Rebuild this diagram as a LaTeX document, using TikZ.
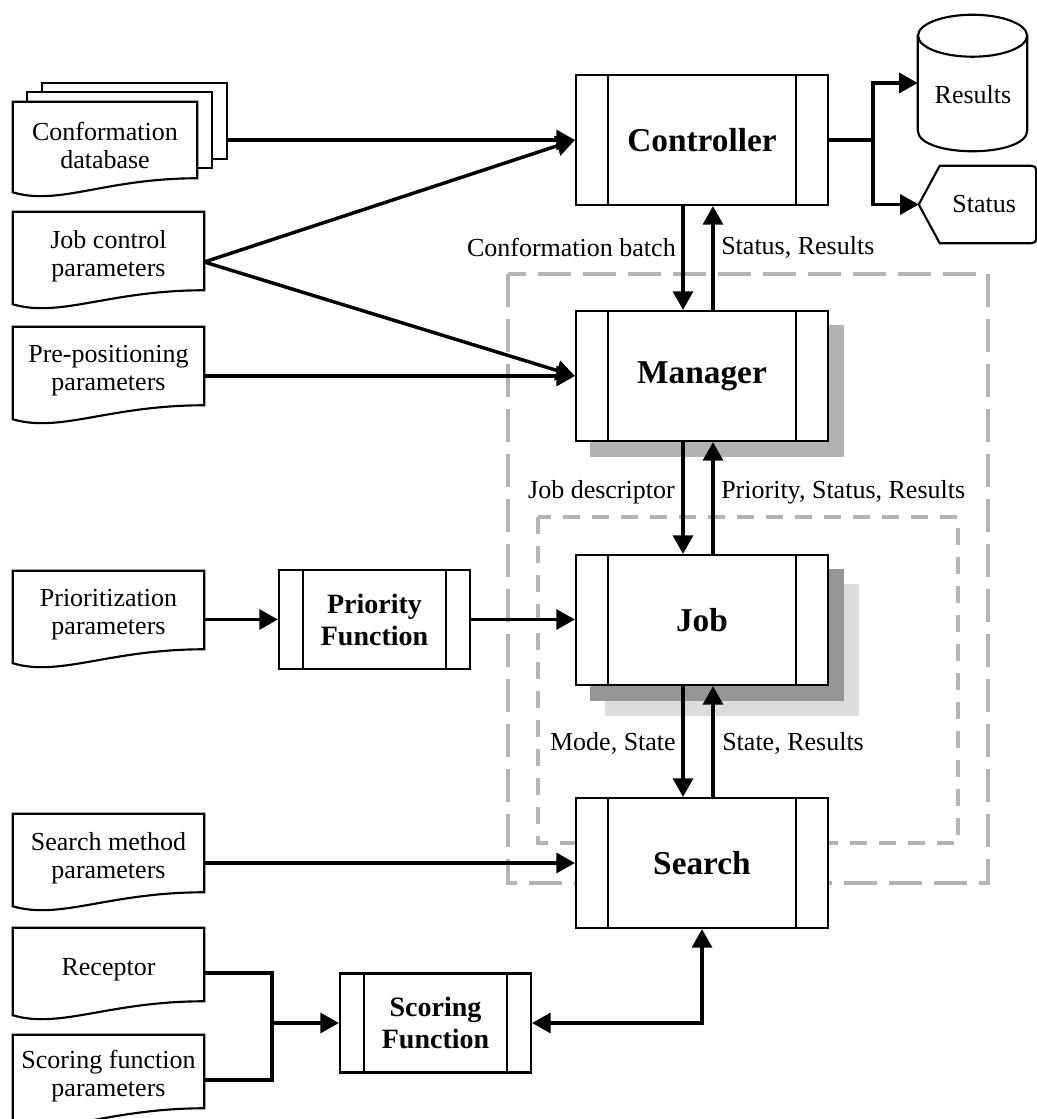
\documentclass[tikz,border=0pt]{standalone}
\usepackage{fontspec}
\setmainfont{Liberation Serif}
\usetikzlibrary{arrows.meta,calc,backgrounds}
\newcommand{\docfont}{\fontsize{19.5}{21}\selectfont}
\newcommand{\bigbf}{\fontsize{25}{28}\selectfont\bfseries}
\newcommand{\smallbf}{\fontsize{21}{24}\selectfont\bfseries}
% document outline, drawn 5px above its text node
\newcommand{\drawdoc}[1]{%
  \filldraw[docline] ($(#1.south east)+(0,-5)$) -- ($(#1.north east)+(0,-5)$) -- ($(#1.north west)+(0,-5)$) -- ($(#1.south west)+(0,9)$)
    .. controls ($(#1.south west)!0.25!(#1.south east)+(0,23)$) and ($(#1.south west)!0.5!(#1.south east)+(0,-5)$) .. ($(#1.south east)+(0,-5)$) -- cycle;}
\definecolor{dashgray}{HTML}{B4B4B4}
\definecolor{shadeA}{HTML}{B2B2B2}
\definecolor{shadeB}{HTML}{969696}
\definecolor{shadeC}{HTML}{DCDCDC}
\tikzset{
  wire/.style={line width=2.6pt},
  arr/.style={wire, -{Triangle[length=14pt,width=15pt]}},
  darr/.style={wire, {Triangle[length=14pt,width=15pt]}-{Triangle[length=14pt,width=15pt]}},
  docline/.style={line width=1.6pt, fill=white},
  box/.style={draw, line width=1.6pt, fill=white, inner sep=0pt, align=center},
  proc/.style={box, path picture={\draw[line width=1.6pt]
      ([xshift=#1]path picture bounding box.north west) -- ([xshift=#1]path picture bounding box.south west)
      ([xshift=-#1]path picture bounding box.north east) -- ([xshift=-#1]path picture bounding box.south east);}},
  bigproc/.style={proc=24pt, minimum width=189pt, minimum height=97.5pt, font=\bigbf},
  smallproc/.style={proc=18pt, minimum width=143.25pt, minimum height=74.25pt, font=\smallbf},
  doc/.style={inner sep=0pt, align=center, minimum width=143.25pt, minimum height=58.5pt, font=\docfont},
  shortdoc/.style={doc, minimum height=54.75pt},
  page/.style={inner sep=0pt, minimum width=138pt, minimum height=57pt},
  lbl/.style={inner sep=0pt, font=\docfont},
  outerdash/.style={draw=dashgray, line width=2.5pt, dash pattern=on 24.75pt off 9pt},
  innerdash/.style={draw=dashgray, line width=2.5pt, dash pattern=on 12.75pt off 9pt},
}
\begin{document}
\begin{tikzpicture}[x=0.75pt,y=-0.75pt]
\useasboundingbox (0,0) rectangle (1037,1119);

% main process boxes
\node[bigproc] (ctrl) at (702,140) {Controller};
\node[bigproc] (mgr) at (702,376) {Manager};
\node[bigproc] (job) at (702,620) {Job};
\node[bigproc] (search) at (702,863) {Search};
\node[smallproc] (pf) at (374.5,619.5) {Priority\\Function};
\node[smallproc] (sf) at (435.5,1023) {Scoring\\Function};

% documents
\node[page] (cdb3) at (134.5,121) {};
\node[page] (cdb2) at (119.5,130) {};
\node[page,align=center,font=\docfont] (cdb) at (105,145) {Conformation\\database};
\node[doc] (jcp) at (108.5,256) {Job control\\parameters};
\node[doc] (pre) at (108.5,371) {Pre-positioning\\parameters};
\node[doc] (prio) at (108.5,615) {Prioritization\\parameters};
\node[doc] (smp) at (108.5,858) {Search method\\parameters};
\node[shortdoc] (rec) at (108.5,969.5) {Receptor};
\node[shortdoc] (sfp) at (108.5,1076.5) {Scoring function\\parameters};

% outputs
\node[inner sep=0pt, minimum width=81.75pt, minimum height=70.5pt] (res) at (972.5,83) {};
\node[inner sep=0pt, font=\docfont] (restxt) at (973,95) {Results};
\node[inner sep=0pt, minimum width=87.75pt, minimum height=57.75pt, font=\docfont] (stat) at (977.5,204.5) {\hspace*{10pt}Status};

% labels
\node[lbl,anchor=east] (lcb) at (676,247) {Conformation batch};
\node[lbl,anchor=west] (lsr) at (721,247) {Status, Results};
\node[lbl,anchor=east] (ljd) at (675,492) {Job descriptor};
\node[lbl,anchor=west] (lpsr) at (721,492) {Priority, Status, Results};
\node[lbl,anchor=east] (lms) at (676,743) {Mode, State};
\node[lbl,anchor=west] (lstr) at (722,743) {State, Results};

\coordinate (jn) at (873,140);
\coordinate (mj) at (272,1023);

% connectors
\draw[arr] (cdb3.east |- ctrl.west) -- (ctrl.west);
\draw[arr] ([yshift=-4.5pt]jcp.east) -- (ctrl.west);
\draw[arr] ([yshift=-4.5pt]jcp.east) -- (mgr.west);
\draw[arr] (pre.east |- mgr.west) -- (mgr.west);
\draw[arr] (prio.east |- pf.west) -- (pf.west);
\draw[arr] (pf.east) -- (pf.east -| job.west);
\draw[arr] (smp.east |- search.west) -- (search.west);
\draw[wire] ([yshift=-2.6pt]rec.east) -| (mj) |- ([yshift=-2.6pt]sfp.east);
\draw[arr] (mj) -- (sf.west);
\draw[darr] (sf.east) -| (search.south);

\draw[arr] (ctrl.east) -- (jn) |- (res.west);
\draw[arr] (jn) |- (stat.west);

\draw[arr] ($(ctrl.south)+(-19,0)$) -- ($(mgr.north)+(-19,0)$);
\draw[arr] ($(mgr.north)+(11,0)$) -- ($(ctrl.south)+(11,0)$);
\draw[arr] ($(mgr.south)+(-19,0)$) -- ($(job.north)+(-19,0)$);
\draw[arr] ($(job.north)+(11,0)$) -- ($(mgr.south)+(11,0)$);
\draw[arr] ($(job.south)+(-19,0)$) -- ($(search.north)+(-19,0)$);
\draw[arr] ($(search.north)+(11,0)$) -- ($(job.south)+(11,0)$);

\begin{scope}[on background layer]
  \draw[outerdash] (508,274) rectangle (988,883);
  \draw[innerdash] (538,517) rectangle (958,843);
  \fill[shadeA] ($(mgr.north west)+(15,15)$) rectangle ($(mgr.south east)+(15,15)$);
  \fill[shadeC] ($(job.north west)+(30,30)$) rectangle ($(job.south east)+(30,30)$);
  \fill[shadeB] ($(job.north west)+(15,15)$) rectangle ($(job.south east)+(15,15)$);
  \filldraw[docline] (cdb3.north west) rectangle (cdb3.south east);
  \filldraw[docline] (cdb2.north west) rectangle (cdb2.south east);
  \drawdoc{cdb}
  \drawdoc{jcp}
  \drawdoc{pre}
  \drawdoc{prio}
  \drawdoc{smp}
  \drawdoc{rec}
  \drawdoc{sfp}
  % cylinder
  \filldraw[docline] (res.north west) -- (res.south west)
    .. controls ($(res.south west)+(0,28)$) and ($(res.south east)+(0,28)$) .. (res.south east)
    -- (res.north east) -- cycle;
  \filldraw[docline] (res.north) ellipse [x radius=40.875pt, y radius=15.75pt];
  % display shape
  \filldraw[docline] (stat.west) -- ($(stat.north west)+(21,0)$) -- ($(stat.north east)+(-10,0)$)
    .. controls (stat.north east) .. ($(stat.north east)+(0,10)$) -- ($(stat.south east)+(0,-10)$)
    .. controls (stat.south east) .. ($(stat.south east)+(-10,0)$) -- ($(stat.south west)+(21,0)$) -- cycle;
\end{scope}
\end{tikzpicture}
\end{document}
